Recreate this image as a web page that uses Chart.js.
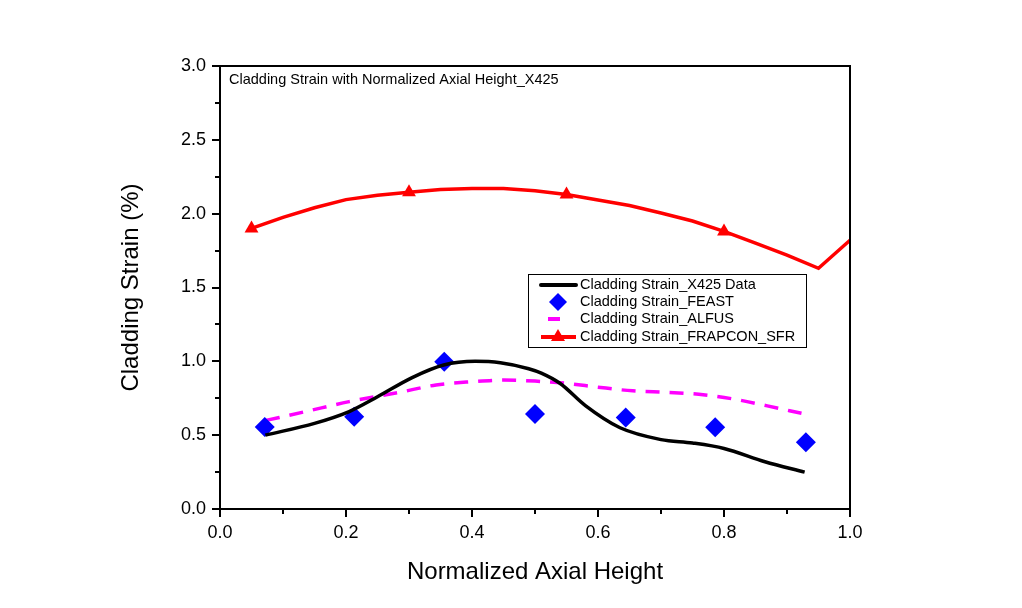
<!DOCTYPE html>
<html>
<head>
<meta charset="utf-8">
<script src="https://cdn.jsdelivr.net/npm/chart.js@4/dist/chart.umd.min.js"></script>
<style>
html,body{margin:0;padding:0;background:#fff;}
#wrap{width:1022px;height:608px;position:relative;}
</style>
</head>
<body>
<div id="wrap"><canvas id="c" width="1022" height="608"></canvas></div>
<script>
// ---- data ----
const chartTitle = "Cladding Strain with Normalized Axial Height_X425";
const xTitle = "Normalized Axial Height";
const yTitle = "Cladding Strain (%)";

const x425X = [0.072, 0.15, 0.205, 0.25, 0.305, 0.355, 0.405, 0.445, 0.49, 0.51, 0.54, 0.58, 0.635, 0.70, 0.75, 0.80, 0.865, 0.928];
const x425Y = [0.50, 0.58, 0.66, 0.76, 0.89, 0.975, 1.0, 0.99, 0.95, 0.92, 0.85, 0.70, 0.55, 0.47, 0.447, 0.41, 0.32, 0.25];

const feastX = [0.071, 0.213, 0.356, 0.500, 0.644, 0.786, 0.930];
const feastY = [0.555, 0.625, 0.997, 0.643, 0.620, 0.553, 0.452];

const alfusX = [0.073, 0.136, 0.205, 0.285, 0.343, 0.40, 0.45, 0.50, 0.55, 0.60, 0.655, 0.71, 0.76, 0.815, 0.867, 0.923];
const alfusY = [0.60, 0.66, 0.727, 0.79, 0.84, 0.862, 0.873, 0.866, 0.851, 0.825, 0.80, 0.79, 0.777, 0.745, 0.70, 0.648];

const frapX = [0.05, 0.10, 0.15, 0.20, 0.25, 0.30, 0.35, 0.40, 0.45, 0.50, 0.55, 0.60, 0.65, 0.70, 0.75, 0.80, 0.85, 0.90, 0.95, 1.00];
const frapY = [1.90, 1.975, 2.04, 2.095, 2.125, 2.145, 2.163, 2.17, 2.17, 2.155, 2.13, 2.093, 2.055, 2.005, 1.95, 1.88, 1.80, 1.72, 1.63, 1.82];
const frapMarked = [0.05, 0.30, 0.55, 0.80];

const seriesLabels = ["Cladding Strain_X425 Data", "Cladding Strain_FEAST", "Cladding Strain_ALFUS", "Cladding Strain_FRAPCON_SFR"];

const xMajorTicks = [0.0, 0.2, 0.4, 0.6, 0.8, 1.0];
const yMajorTicks = [0.0, 0.5, 1.0, 1.5, 2.0, 2.5, 3.0];

const zip = (xs, ys) => xs.map((x, i) => ({x: x, y: ys[i]}));
const FONT = "'Liberation Sans', Arial, sans-serif";

const framePlugin = {
  id: 'frame',
  afterDatasetsDraw(chart) {
    const {ctx, chartArea: a, scales} = chart;
    ctx.save();
    ctx.strokeStyle = '#000';
    ctx.lineWidth = 2;
    ctx.strokeRect(a.left, a.top, a.right - a.left, a.bottom - a.top);
    ctx.beginPath();
    const xs = scales.x, ys = scales.y;
    for (let i = 0; i <= 10; i++) {
      const px = Math.round(xs.getPixelForValue(i / 10));
      const major = i % 2 === 0;
      ctx.moveTo(px, a.bottom);
      ctx.lineTo(px, a.bottom + (major ? 8 : 5));
    }
    for (let i = 0; i <= 12; i++) {
      const py = Math.round(ys.getPixelForValue(i / 4));
      const major = i % 2 === 0;
      ctx.moveTo(a.left, py);
      ctx.lineTo(a.left - (major ? 8 : 5), py);
    }
    ctx.stroke();
    ctx.fillStyle = '#000';
    ctx.textBaseline = 'middle';
    // inner title
    ctx.font = '14.5px ' + FONT;
    ctx.textAlign = 'left';
    ctx.fillText(chartTitle, a.left + 9, a.top + 14);
    // axis titles
    ctx.font = '24px ' + FONT;
    ctx.textAlign = 'center';
    ctx.fillText(xTitle, (a.left + a.right) / 2, 572);
    ctx.translate(131, (a.top + a.bottom) / 2);
    ctx.rotate(-Math.PI / 2);
    ctx.fillText(yTitle, 0, 0);
    ctx.restore();
  }
};

const legendPlugin = {
  id: 'customLegend',
  afterDatasetsDraw(chart) {
    const {ctx} = chart;
    const bx = 528, by = 274, bw = 278, bh = 73;
    ctx.save();
    ctx.fillStyle = '#fff';
    ctx.fillRect(bx, by, bw, bh);
    ctx.strokeStyle = '#000';
    ctx.lineWidth = 1;
    ctx.strokeRect(bx + 0.5, by + 0.5, bw, bh);
    const rowY = [285, 302, 319, 337];
    const sx0 = 541, sx1 = 576;
    ctx.font = '14.5px ' + FONT;
    ctx.textBaseline = 'middle';
    ctx.textAlign = 'left';
    chart.data.datasets.forEach((ds, i) => {
      const y = rowY[i];
      if (i === 0) {
        ctx.strokeStyle = '#000'; ctx.lineWidth = 4; ctx.lineCap = 'round';
        ctx.beginPath(); ctx.moveTo(sx0, y); ctx.lineTo(sx1, y); ctx.stroke();
      } else if (i === 1) {
        ctx.fillStyle = '#0000ff';
        ctx.beginPath(); ctx.moveTo(558, y - 9); ctx.lineTo(567, y); ctx.lineTo(558, y + 9); ctx.lineTo(549, y); ctx.closePath(); ctx.fill();
      } else if (i === 2) {
        ctx.strokeStyle = '#ff00ff'; ctx.lineWidth = 4; ctx.lineCap = 'butt';
        ctx.beginPath(); ctx.moveTo(548, y); ctx.lineTo(560, y); ctx.stroke();
      } else {
        ctx.strokeStyle = '#ff0000'; ctx.lineWidth = 4; ctx.lineCap = 'butt';
        ctx.beginPath(); ctx.moveTo(sx0, y); ctx.lineTo(sx1, y); ctx.stroke();
        ctx.fillStyle = '#ff0000';
        ctx.beginPath(); ctx.moveTo(558, y - 8); ctx.lineTo(565, y + 4); ctx.lineTo(551, y + 4); ctx.closePath(); ctx.fill();
      }
      ctx.fillStyle = '#000';
      ctx.fillText(ds.label, 580, y);
    });
    ctx.restore();
  }
};

new Chart(document.getElementById('c'), {
  type: 'line',
  data: {
    datasets: [
      {
        label: seriesLabels[0],
        data: zip(x425X, x425Y),
        borderColor: '#000', borderWidth: 3.5,
        pointRadius: 0, tension: 0.4, cubicInterpolationMode: 'monotone', fill: false
      },
      {
        label: seriesLabels[1],
        data: zip(feastX, feastY),
        showLine: false,
        pointStyle: 'rectRot', pointRadius: 10, pointBackgroundColor: '#0000ff', pointBorderColor: '#0000ff', pointBorderWidth: 0
      },
      {
        label: seriesLabels[2],
        data: zip(alfusX, alfusY),
        borderColor: '#ff00ff', borderWidth: 3.5, borderDash: [14, 10],
        pointRadius: 0, tension: 0.4, cubicInterpolationMode: 'monotone', fill: false
      },
      {
        label: seriesLabels[3],
        data: zip(frapX, frapY),
        borderColor: '#ff0000', borderWidth: 3.5, tension: 0,
        pointStyle: 'triangle',
        pointRadius: frapX.map(x => frapMarked.some(m => Math.abs(m - x) < 1e-6) ? 8 : 0),
        pointBackgroundColor: '#ff0000', pointBorderColor: '#ff0000', pointBorderWidth: 0, fill: false
      }
    ]
  },
  options: {
    responsive: false,
    animation: false,
    events: [],
    layout: {padding: {left: 0, right: 172, top: 66, bottom: 0}},
    plugins: {legend: {display: false}, tooltip: {enabled: false}, title: {display: false}},
    scales: {
      x: {
        type: 'linear', min: 0, max: 1,
        afterBuildTicks: (s) => { s.ticks = xMajorTicks.map(v => ({value: v})); },
        afterFit: (s) => { s.height = 99; },
        grid: {display: true, drawOnChartArea: false, drawTicks: true, tickLength: 8, color: 'rgba(0,0,0,0)'},
        border: {display: true, color: '#000', width: 2},
        ticks: {color: '#000', font: {family: FONT, size: 18}, padding: 5, callback: v => v.toFixed(1), maxRotation: 0},
        title: {display: false}
      },
      y: {
        type: 'linear', min: 0, max: 3,
        afterBuildTicks: (s) => { s.ticks = yMajorTicks.map(v => ({value: v})); },
        afterFit: (s) => { s.width = 220; },
        grid: {display: true, drawOnChartArea: false, drawTicks: true, tickLength: 8, color: 'rgba(0,0,0,0)'},
        border: {display: true, color: '#000', width: 2},
        ticks: {color: '#000', font: {family: FONT, size: 18}, padding: 6, callback: v => v.toFixed(1)},
        title: {display: false}
      }
    }
  },
  plugins: [framePlugin, legendPlugin]
});
</script>
</body>
</html>
